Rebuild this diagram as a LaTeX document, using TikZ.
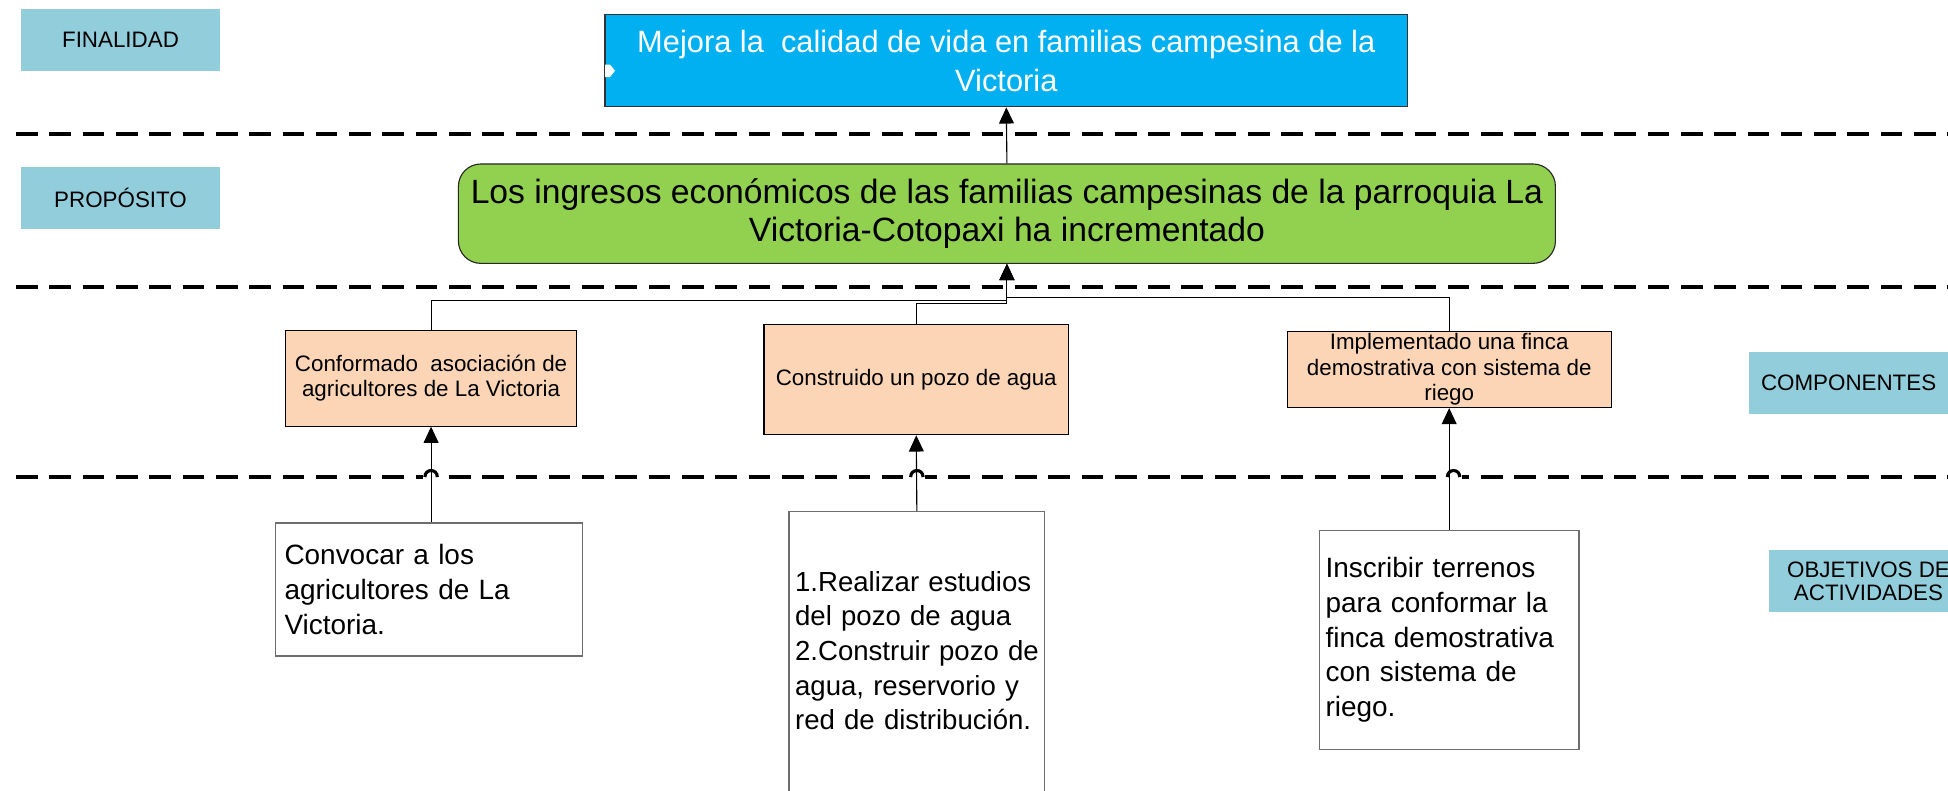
\documentclass[tikz,border=0pt]{standalone}
\usepackage{fontspec}
\setmainfont{Liberation Sans}
\usetikzlibrary{arrows.meta,calc}
\definecolor{sidecol}{HTML}{92CDDC}
\definecolor{bluecol}{HTML}{00B0F0}
\definecolor{greencol}{HTML}{92D050}
\definecolor{peach}{HTML}{FBD5B5}
\definecolor{boxgray}{HTML}{6E6E6E}
\hyphenpenalty=10000
\exhyphenpenalty=10000
\hbadness=10000
\hfuzz=20pt
\begin{document}
\begin{tikzpicture}[x=1pt,y=-1pt,
  sidebox/.style={fill=sidecol, draw=none, minimum width=160pt, minimum height=50pt, inner sep=0pt,
    font=\fontsize{18}{21}\selectfont, align=center},
  compbox/.style={fill=peach, draw=black, line width=0.9pt, inner sep=0pt, align=center,
    font=\fontsize{18}{20.5}\selectfont},
  actbox/.style={fill=white, draw=boxgray, line width=1pt, inner xsep=5pt, inner ysep=0pt, align=left,
    font=\fontsize{22.5}{27.8}\selectfont},
  sep/.style={line width=3pt, dash pattern=on 17.4pt off 9.4pt},
  conn/.style={line width=0.9pt, -{Triangle[length=13pt,width=12pt]}},
]
\useasboundingbox (0,0) rectangle (1568,636);

% separator lines
\draw[sep] (13,108) -- (1568,108);
\draw[sep] (13,231) -- (1568,231);
\draw[sep] (13,384) -- (1568,384);

% side labels
\node[sidebox] (fin) at (97,32) {FINALIDAD};
\node[sidebox] (pro) at (97,159.5) {PROPÓSITO};
\node[sidebox] (com) at (1488,308) {COMPONENTES};
\node[sidebox] (obj) at (1504,468) {OBJETIVOS DE\\[-3pt]ACTIVIDADES};

% finality
\node[fill=bluecol, draw=black!80, line width=0.9pt, minimum width=646pt, minimum height=74pt, inner sep=0pt,
  align=center, text=white, font=\fontsize{24.8}{31}\selectfont] (b) at (810,49)
  {Mejora la~ calidad de vida en familias campesina de la\\Victoria};
\fill[white] (487,52) -- (491,52) -- (495,57) -- (491,62) -- (487,62) -- cycle;

% purpose
\node[fill=greencol, draw=black!85, line width=0.9pt, rounded corners=18pt, minimum width=883pt, minimum height=80pt,
  inner sep=0pt, align=center, font=\fontsize{27.1}{32}\selectfont] (g) at (810.5,172)
  {\raisebox{-2pt}{Los ingresos económicos de las familias campesinas de la parroquia La}\\Victoria-Cotopaxi ha incrementado};

% components
\node[compbox, minimum width=234pt, minimum height=77pt] (c1) at (347,304.5)
  {Conformado~ asociación de\\agricultores de La Victoria};
\node[compbox, minimum width=245pt, minimum height=89pt] (c2) at (737.5,305.5)
  {Construido un pozo de agua};
\node[compbox, minimum width=261pt, minimum height=61pt] (c3) at (1166.5,297.5)
  {Implementado una finca\\demostrativa con sistema de\\riego};

% activities
\node[actbox, inner xsep=7pt, minimum width=247pt, minimum height=107pt, text width=233pt] (a1) at (345.5,474.5)
  {Convocar a los\\agricultores de La\\Victoria.};
\node[actbox, minimum width=206pt, minimum height=264pt, text width=196pt, font=\fontsize{22.2}{27.8}\selectfont] (a2) at (738,544)
  {\mbox{1.Realizar estudios}\\\mbox{del pozo de agua}\\\mbox{2.Construir pozo de}\\\mbox{agua, reservorio y}\\\mbox{red de distribución.}\\[13pt]\mbox{}};
\node[actbox, minimum width=209pt, minimum height=176pt, text width=199pt] (a3) at (1166.5,515)
  {Inscribir terrenos\\para conformar la\\finca demostrativa\\con sistema de\\riego.};

% line hops on the lower separator
\foreach \hx in {347,738,1170}{
  \fill[white] (\hx-6.5,381) rectangle (\hx+6.5,387);
  \draw[line width=2.5pt] (\hx-5,384) .. controls (\hx-5,377) and (\hx+5,377) .. (\hx+5,384);
}

% connectors
\draw[conn] (g.north) -- (b.south);
\draw[conn] (c1.north) -- ++(0,-24) -| (g.south);
\draw[conn] (c2.north) -- ++(0,-16) -| (g.south);
\draw[conn] (c3.north) -- ++(0,-27) -| (g.south);
\draw[conn] (a1.north -| c1.south) -- (c1.south);
\draw[conn] (a2.north) -- (c2.south);
\draw[conn] (a3.north) -- (c3.south);
\end{tikzpicture}
\end{document}
